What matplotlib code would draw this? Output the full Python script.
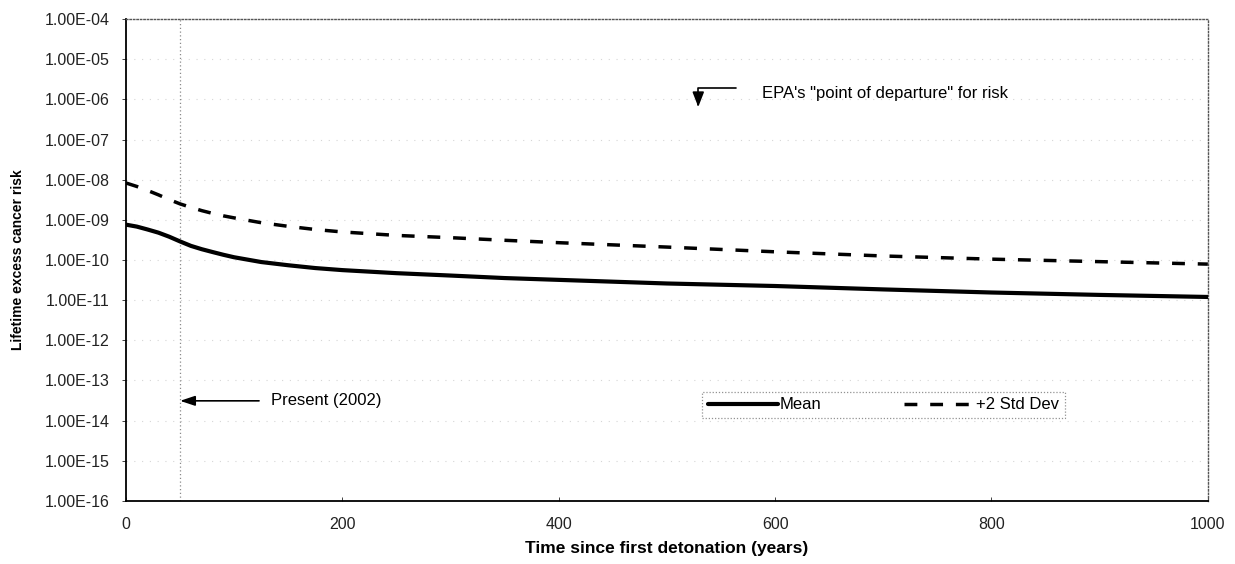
import matplotlib
matplotlib.use("Agg")
import matplotlib.pyplot as plt
from matplotlib.ticker import FixedLocator, FuncFormatter
import numpy as np

plt.rcParams.update({"font.family": ["Liberation Sans", "DejaVu Sans"]})

# years after the first detonation
YEARS = [0, 10, 20, 30, 40, 50, 60, 70, 80, 90, 100, 125, 150, 175, 200,
         250, 300, 350, 400, 500, 600, 700, 800, 900, 1000]
# lifetime excess cancer risk
MEAN = [7.6e-10, 6.8e-10, 5.75e-10, 4.8e-10, 3.8e-10, 2.9e-10, 2.25e-10,
        1.86e-10, 1.58e-10, 1.35e-10, 1.17e-10, 8.9e-11, 7.4e-11, 6.3e-11,
        5.6e-11, 4.7e-11, 4.1e-11, 3.55e-11, 3.2e-11, 2.6e-11, 2.25e-11,
        1.85e-11, 1.55e-11, 1.35e-11, 1.2e-11]
PLUS2SD = [8.3e-9, 6.8e-9, 5.4e-9, 4.2e-9, 3.2e-9, 2.5e-9, 2.05e-9, 1.7e-9,
           1.45e-9, 1.26e-9, 1.12e-9, 8.5e-10, 6.9e-10, 5.75e-10, 5.0e-10,
           4.1e-10, 3.6e-10, 3.1e-10, 2.7e-10, 2.1e-10, 1.6e-10, 1.26e-10,
           1.05e-10, 9.1e-11, 7.9e-11]

YTICKS = [10.0 ** -k for k in range(4, 17)]
XTICKS = [0, 200, 400, 600, 800, 1000]
PRESENT = 50          # 2002, years since first detonation

fig = plt.figure(figsize=(12.35, 5.64), dpi=100)
ax = fig.add_axes([0.102, 0.112, 0.876, 0.854])

ax.set_yscale("log")
ax.set_ylim(1e-16, 1e-4)
ax.set_xlim(0, 1000)

# faint dotted gridlines at every decade
for v in YTICKS[1:-1]:
    ax.axhline(v, color="#d6d6d6", lw=0.8, ls=(0, (1, 6)), zorder=0)

ax.axvline(PRESENT, color="#8a8a8a", lw=0.9, ls=(0, (1, 2)), zorder=1)

ax.plot(YEARS, MEAN, color="black", lw=3.0, solid_capstyle="round",
        solid_joinstyle="round", label="Mean", zorder=4)
ax.plot(YEARS, PLUS2SD, color="black", lw=2.5, ls=(0, (3.7, 3.7)),
        label="+2 Std Dev", zorder=4)

ax.yaxis.set_major_locator(FixedLocator(YTICKS))
ax.yaxis.set_minor_locator(FixedLocator([]))
ax.yaxis.set_major_formatter(FuncFormatter(
    lambda v, p: f"1.00E-{int(round(-np.log10(v))):02d}"))
ax.set_xticks(XTICKS)
ax.tick_params(axis="y", labelsize=11.5, length=3, width=0.6, pad=9,
               colors="#222")
ax.tick_params(axis="x", labelsize=11.5, length=3, width=0.6, pad=12,
               direction="in", colors="#222")

for side in ("left", "bottom"):
    ax.spines[side].set_linewidth(1.3)
    ax.spines[side].set_color("black")
for side in ("top", "right"):
    ax.spines[side].set_linestyle((0, (1, 1.5)))
    ax.spines[side].set_color("#555")
    ax.spines[side].set_linewidth(1.0)

ax.set_xlabel("Time since first detonation (years)", fontsize=12.5,
              fontweight="bold", labelpad=6)
ax.set_ylabel("Lifetime excess cancer risk", fontsize=10, fontweight="bold",
              labelpad=14)

# "Present" marker arrow
ax.annotate("", xy=(PRESENT, 3.1e-14), xytext=(123, 3.1e-14),
            arrowprops=dict(arrowstyle="-|>,head_length=0.9,head_width=0.3",
                            color="black", lw=1.2, shrinkA=0, shrinkB=0))
ax.text(134, 3.1e-14, "Present (2002)", fontsize=12, va="center", ha="left")

# EPA point-of-departure elbow arrow
ax.annotate("", xy=(529, 6.5e-7), xytext=(564, 1.9e-6),
            arrowprops=dict(arrowstyle="-|>,head_length=0.9,head_width=0.35",
                            color="black", lw=1.2, shrinkA=0, shrinkB=0,
                            connectionstyle="angle,angleA=180,angleB=90,rad=0"))
ax.text(588, 1.4e-6, "EPA's \"point of departure\" for risk", fontsize=12,
        va="center", ha="left")

leg = ax.legend(loc="center", bbox_to_anchor=(0.70, 0.199), ncol=2,
                fontsize=12, handlelength=4.2, columnspacing=5.0,
                fancybox=False, frameon=True, borderpad=0.35,
                handletextpad=0.1)
leg.get_frame().set_edgecolor("#777")
leg.get_frame().set_linestyle((0, (1, 1.5)))
leg.get_frame().set_linewidth(0.9)

fig.savefig("out.png", dpi=100)
